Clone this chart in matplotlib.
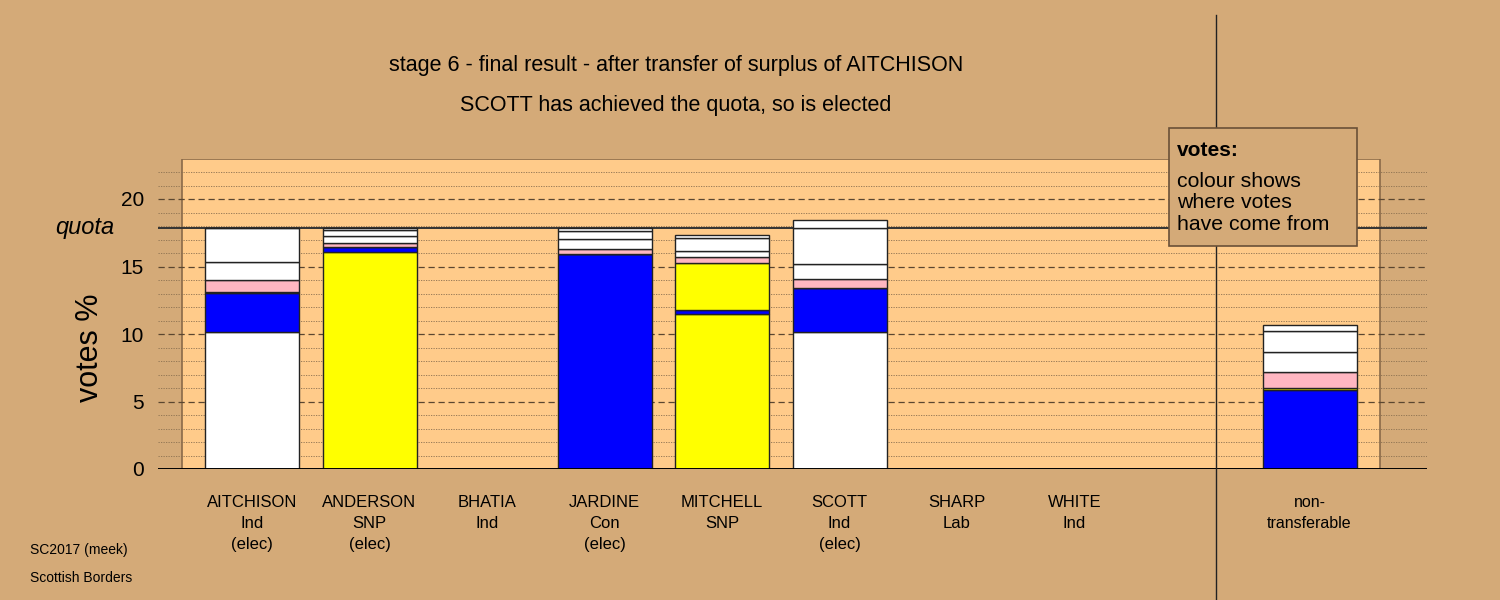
import matplotlib.pyplot as plt
import matplotlib.transforms as mtransforms
from matplotlib.patches import Rectangle
import numpy as np

plt.rcParams['font.family'] = ['Liberation Sans', 'DejaVu Sans']

# candidates, in ballot order
names = ["AITCHISON", "ANDERSON", "BHATIA", "JARDINE", "MITCHELL", "SCOTT", "SHARP", "WHITE"]
parties = ["Ind", "SNP", "Ind", "Con", "SNP", "Ind", "Lab", "Ind"]
elected = [True, True, False, True, False, True, False, False]
party_col = {"Ind": "white", "SNP": "#ffff00", "Con": "#0000ff", "Lab": "#ffb6c1"}

quota = 17.86

# vote layers (% of valid vote): first preferences, then each transfer in turn
# order: candidates..., non-transferable
first_pref   = [10.13, 16.10, 0, 15.95, 11.50, 10.13, 0, 0, 0]
from_jardine = [2.93, 0.34, 0, 0, 0.30, 3.30, 0, 0, 5.83]
from_anderson = [0.08, 0, 0, 0, 3.43, 0, 0, 0, 0.19]
from_sharp   = [0.84, 0.33, 0, 0.32, 0.50, 0.64, 0, 0, 1.19]
from_white   = [1.38, 0.51, 0, 0.74, 0.39, 1.14, 0, 0, 1.43]
from_bhatia  = [2.51, 0.40, 0, 0.64, 0.99, 2.64, 0, 0, 1.58]
from_aitchison = [0, 0.19, 0, 0.22, 0.25, 0.57, 0, 0, 0.47]

layers = [from_jardine, from_anderson, from_sharp, from_white, from_bhatia, from_aitchison]
layer_cols = ["#0000ff", "#ffff00", "#ffb6c1", "white", "white", "white"]

bg = "#d4aa78"
panel = "#ffcb8a"

fig = plt.figure(figsize=(15, 6), dpi=100, facecolor=bg)
ax = fig.add_axes([158/1500, 131/600, 1269/1500, 310.5/600])
ax.set_facecolor(bg)
ax.set_xlim(-0.8, 10.0)
ax.set_ylim(0, 23)
for s in ax.spines.values():
    s.set_visible(False)

xpos = np.r_[np.arange(len(names)), 9]

# panel behind bars
ax.add_patch(Rectangle((-0.6, 0), 10.2, 23, facecolor=panel, edgecolor="#8a6a48", lw=1.2, zorder=0))

# grid
for v in range(1, 23):
    if v % 5 == 0:
        ax.axhline(v, color="#5a4630", lw=0.9, ls=(0, (5, 3)), zorder=1)
    else:
        ax.axhline(v, color="#8a7050", lw=0.6, ls=(0, (1.5, 1.5)), zorder=1)
ax.axhline(quota, color="#333333", lw=1.4, zorder=1)
ax.axhline(0, color="black", lw=1.4, zorder=3)

# bars
base = np.zeros(len(xpos))
cols0 = [party_col[p] for p in parties] + ["white"]
ax.bar(xpos, first_pref, 0.8, bottom=base, color=cols0, edgecolor="#222222", lw=1, zorder=2)
base += np.array(first_pref)
for vals, c in zip(layers, layer_cols):
    ax.bar(xpos, vals, 0.8, bottom=base, color=c, edgecolor="#222222", lw=1, zorder=2)
    base += np.array(vals)

# axis text
ax.set_yticks([0, 5, 10, 15, 20])
ax.tick_params(axis="y", length=0, labelsize=15, pad=10)
ax.set_xticks([])
ax.set_ylabel("votes %", fontsize=22)
ax.yaxis.set_label_coords(-0.042, 0.39)
ax.text(-1.425, quota, "quota", ha="center", va="center", fontsize=17, style="italic")

# category labels
for x, n, p, e in zip(xpos, names, parties, elected):
    lab = n + "\n" + p + ("\n(elec)" if e else "")
    ax.text(x, -1.95, lab, ha="center", va="top", fontsize=12, linespacing=1.5)
ax.text(xpos[-1], -1.95, "non-\ntransferable", ha="center", va="top", fontsize=11.5, linespacing=1.5)

# separator for non-transferable
trans = mtransforms.blended_transform_factory(ax.transData, fig.transFigure)
ax.plot([8.2, 8.2], [0, 585/600], color="#222222", lw=1, transform=trans, clip_on=False, zorder=5)

# titles
fig.text(676/1500, 1 - 66/600, "stage 6 - final result - after transfer of surplus of AITCHISON",
         ha="center", va="center", fontsize=15.5)
fig.text(676/1500, 1 - 105/600, "SCOTT has achieved the quota, so is elected",
         ha="center", va="center", fontsize=15.5)

# note box
box = Rectangle((1169/1500, 1 - 246/600), 188/1500, 118/600, transform=fig.transFigure,
                facecolor=bg, edgecolor="#6a5038", lw=1.2, zorder=10)
fig.add_artist(box)
fig.text(1177/1500, 1 - 150/600, "votes:", fontsize=15, fontweight="bold", va="center", zorder=11)
fig.text(1177/1500, 1 - 203/600, "colour shows\nwhere votes\nhave come from", fontsize=15.3,
         va="center", linespacing=1.16, zorder=11)

# footer
fig.text(30/1500, 1 - 550/600, "SC2017 (meek)", fontsize=10, va="center")
fig.text(30/1500, 1 - 578/600, "Scottish Borders", fontsize=10, va="center")

fig.savefig("out.png", dpi=100, facecolor=bg)
